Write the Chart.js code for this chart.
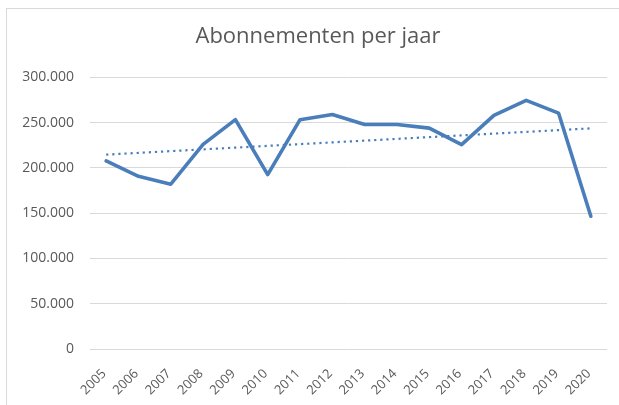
<!DOCTYPE html>
<html>
<head>
<meta charset="utf-8">
<script src="https://cdn.jsdelivr.net/npm/chart.js@4/dist/chart.umd.min.js"></script>
<style>
  html, body { margin: 0; padding: 0; background: #ffffff; }
  #wrap { position: relative; width: 619px; height: 405px; overflow: hidden; background: #fff; }
  #frame { position: absolute; left: 6px; top: 8px; width: 700px; height: 500px;
           border-left: 1px solid #d9d9d9; border-top: 1px solid #d9d9d9; }
  #c { position: absolute; left: 0; top: 0; }
</style>
</head>
<body>
<div id="wrap">
  <div id="frame"></div>
  <canvas id="c" width="619" height="405"></canvas>
</div>
<script>
const chartTitle = 'Abonnementen per jaar';
const years = ['2005','2006','2007','2008','2009','2010','2011','2012','2013','2014','2015','2016','2017','2018','2019','2020'];
const subscriptions = [207700, 190800, 182000, 226000, 253300, 192700, 253300, 259000, 248000, 248000, 244000, 225800, 258000, 274600, 260600, 146700];
const trendStart = 214700;
const trendEnd = 243700;
const yTicks = [0, 50000, 100000, 150000, 200000, 250000, 300000];

const blue = '#4a7ebb';
const grey = '#595959';
const fontFamily = '"Open Sans", sans-serif';

function fmt(v) {
  return String(Math.round(v)).replace(/\B(?=(\d{3})+(?!\d))/g, '.');
}

new Chart(document.getElementById('c'), {
  type: 'line',
  data: {
    labels: years,
    datasets: [
      {
        label: 'Abonnementen',
        data: subscriptions,
        borderColor: blue,
        borderWidth: 3.6,
        pointRadius: 0,
        tension: 0,
        borderJoinStyle: 'round',
        borderCapStyle: 'round',
        fill: false,
        order: 2
      },
      {
        label: 'Trend',
        data: [{x: years[0], y: trendStart}, {x: years[years.length - 1], y: trendEnd}],
        borderColor: blue,
        borderWidth: 2.2,
        borderDash: [2.2, 3.9],
        pointRadius: 0,
        tension: 0,
        fill: false,
        order: 1
      }
    ]
  },
  options: {
    responsive: false,
    animation: false,
    devicePixelRatio: 1,
    layout: { padding: { left: 0, right: -17, top: 0, bottom: 0 } },
    plugins: {
      legend: { display: false },
      tooltip: { enabled: false },
      title: {
        display: true,
        text: chartTitle,
        color: grey,
        font: { family: fontFamily, size: 22, weight: 'normal' },
        padding: { top: 24, bottom: 27 }
      }
    },
    scales: {
      x: {
        type: 'category',
        offset: true,
        grid: { display: false, drawTicks: false },
        border: { display: false },
        ticks: {
          color: grey,
          font: { family: fontFamily, size: 13 },
          minRotation: 45,
          maxRotation: 45,
          autoSkip: false,
          padding: 17,
          labelOffset: -2
        },
        afterFit: (s) => { s.height = 56; s.paddingLeft = 0; s.paddingRight = 0; }
      },
      y: {
        min: 0,
        max: 300000,
        afterBuildTicks: (s) => { s.ticks = yTicks.map(v => ({ value: v })); },
        grid: { color: '#d9d9d9', lineWidth: 1, drawTicks: false },
        border: { display: false },
        ticks: {
          color: grey,
          font: { family: fontFamily, size: 14 },
          padding: 16,
          callback: (v) => fmt(v)
        },
        afterFit: (s) => { s.width = 90; }
      },
      yRightSpace: {
        type: 'linear',
        position: 'right',
        grid: { display: false, drawTicks: false },
        border: { display: false },
        ticks: { display: false },
        afterFit: (s) => { s.width = 29; }
      }
    }
  }
});
</script>
</body>
</html>
